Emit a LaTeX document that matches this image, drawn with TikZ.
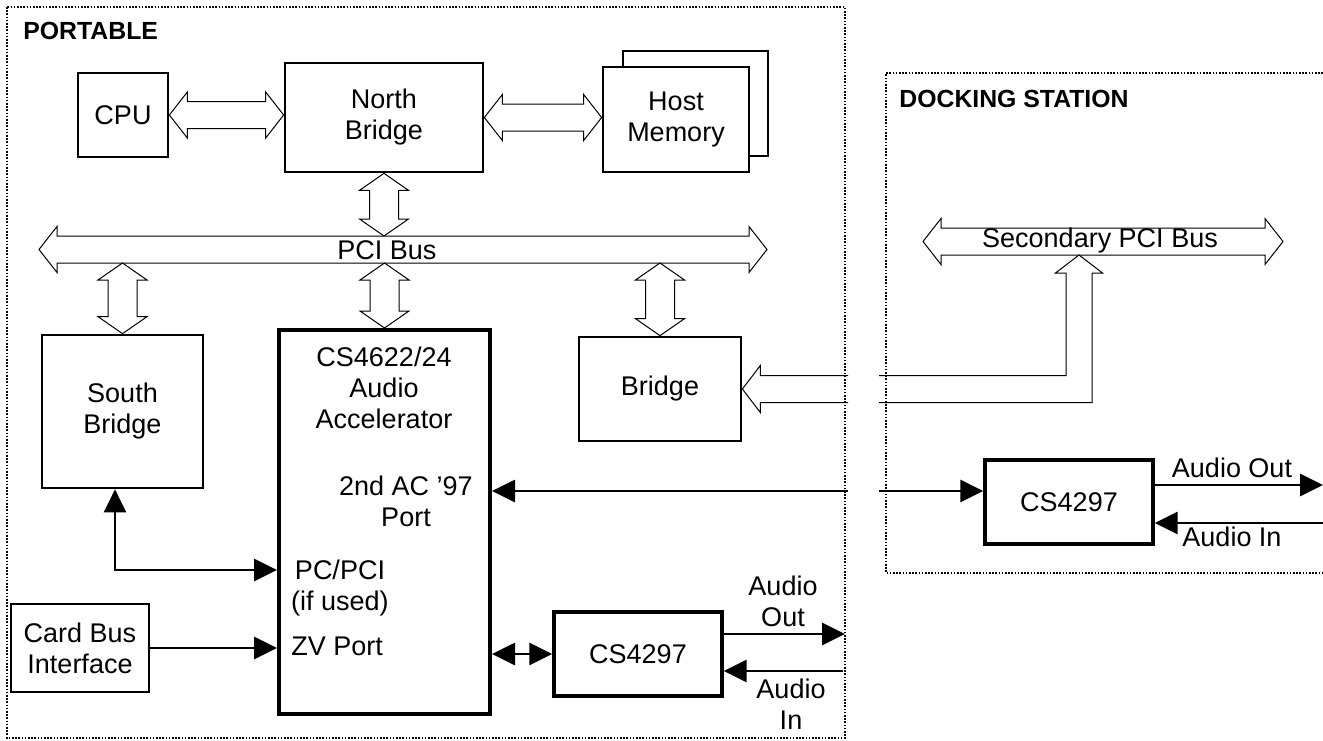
\documentclass[tikz,border=0pt]{standalone}
\usepackage{fontspec}
\setmainfont{Liberation Sans}
\usetikzlibrary{arrows.meta,calc}

% hollow double arrow, left point #1 to right point #2
\newcommand{\hbus}[2]{%
  \draw[busline] let \p1=#1, \p2=#2 in
    (\x1,\y1) -- (\x1+9pt,\y1+11.5pt) -- (\x1+9pt,\y1+6.75pt)
    -- (\x2-9pt,\y1+6.75pt) -- (\x2-9pt,\y1+11.5pt) -- (\x2,\y1)
    -- (\x2-9pt,\y1-11.5pt) -- (\x2-9pt,\y1-6.75pt)
    -- (\x1+9pt,\y1-6.75pt) -- (\x1+9pt,\y1-11.5pt) -- cycle;}
% hollow double arrow, top point #1 to bottom point #2
\newcommand{\vbus}[2]{%
  \draw[busline] let \p1=#1, \p2=#2 in
    (\x1,\y1) -- (\x1+12.25pt,\y1-8.5pt) -- (\x1+7.25pt,\y1-8.5pt)
    -- (\x1+7.25pt,\y2+8.5pt) -- (\x1+12.25pt,\y2+8.5pt) -- (\x1,\y2)
    -- (\x1-12.25pt,\y2+8.5pt) -- (\x1-7.25pt,\y2+8.5pt)
    -- (\x1-7.25pt,\y1-8.5pt) -- (\x1-12.25pt,\y1-8.5pt) -- cycle;}

\begin{document}
\begin{tikzpicture}[
    x=0.5pt, y=-0.5pt,
    font=\fontsize{13.5}{15.5}\selectfont,
    block/.style={rectangle, draw, fill=white, line width=1.35pt, inner sep=0pt, align=center},
    txt/.style={inner sep=0pt, align=center},
    tag/.style={font=\bfseries\fontsize{12.4}{14}\selectfont, anchor=base west, inner sep=0pt},
    frame/.style={line width=0.8pt, dash pattern=on 0.8pt off 0.8pt},
    busline/.style={line width=0.5pt},
    sig/.style={line width=1.4pt, >={Triangle[length=11.5pt,width=11pt]}},
]
\useasboundingbox (0,0) rectangle (1323,740);

% Frames
\draw[frame] (7,7) rectangle (845,738);
\draw[frame] (1323,73) -| (886,573) -- (1323,573);
\node[tag] (portable) at (23,39) {PORTABLE};
\node[tag] (docking) at (899,107) {DOCKING STATION};

% Portable blocks
\node[block, minimum width=45pt, minimum height=42pt] (cpu) at (123,115) {CPU};
\node[block, minimum width=99pt, minimum height=54.5pt] (nb) at (384,117.5) {North\\Bridge};
\node[block, minimum width=72.5pt, minimum height=52.5pt] (hostback) at (695.5,103.5) {};
\node[block, minimum width=73pt, minimum height=52.5pt] (hostmem) at (676,119.5) {Host\\Memory};
\node[block, minimum width=80.5pt, minimum height=76.5pt] (sb) at (122.5,411.5) {South\\Bridge};
\node[block, minimum width=105.5pt, minimum height=192pt, line width=2pt] (accel) at (384.5,522) {};
\node[block, minimum width=81pt, minimum height=52pt] (bridge) at (660,389) {Bridge};
\node[block, minimum width=69pt, minimum height=44pt] (cardbus) at (80,648) {Card Bus\\Interface};
\node[block, minimum width=84pt, minimum height=42pt, line width=1.7pt] (codec) at (638,654) {CS4297};

% Docking block
\node[block, minimum width=84pt, minimum height=42pt, line width=1.7pt] (dockcodec) at (1069,502) {CS4297};

% Accelerator ports
\node[txt, anchor=north] (acceltitle) at (384,347) {CS4622/24\\Audio\\Accelerator};
\node[txt, anchor=north] (acport) at (406,476) {2nd AC '97\\Port};
\node[txt, anchor=north] (pcport) at (340,560) {PC/PCI\\(if used)};
\node[txt, anchor=base west] (zvport) at (291,655) {ZV Port};

% Buses
\coordinate (pciL) at (39,249.5);
\coordinate (pciR) at (767,249.5);
\coordinate (pcitop) at (0,236);
\coordinate (pcibot) at (0,263);
\hbus{(pciL)}{(pciR)}
\node[txt, anchor=base] (pcilabel) at (387,259) {PCI Bus};

\coordinate (secL) at (923,241.5);
\coordinate (secR) at (1283,241.5);
\coordinate (secbot) at (1079,255);
\hbus{(secL)}{(secR)}
\node[txt, anchor=base] (seclabel) at (1100,247) {Secondary PCI Bus};

% Hollow links
\hbus{(cpu.east)}{(nb.west)}
\hbus{(nb.east)}{(hostmem.west)}
\vbus{(nb.south)}{(nb.south |- pcitop)}
\vbus{(sb.north |- pcibot)}{(sb.north)}
\vbus{(accel.north |- pcibot)}{(accel.north)}
\vbus{(bridge.north |- pcibot)}{(bridge.north)}

% Bridge to secondary bus, broken at the frame edge
\coordinate (cutL) at (848,0);
\coordinate (cutR) at (879,0);
\draw[busline] let \p1=(bridge.east), \p2=(cutL) in
  (\x2,\y1+6.75pt) -- (\x1+9pt,\y1+6.75pt) -- (\x1+9pt,\y1+11.75pt) -- (\x1,\y1)
  -- (\x1+9pt,\y1-11.75pt) -- (\x1+9pt,\y1-6.75pt) -- (\x2,\y1-6.75pt);
\draw[busline] let \p1=(bridge.east), \p2=(cutR), \p3=(secbot) in
  (\x2,\y1+6.75pt) -- (\x3-6.5pt,\y1+6.75pt) -- (\x3-6.5pt,\y3-9pt) -- (\x3-11.75pt,\y3-9pt)
  -- (\x3,\y3) -- (\x3+11.75pt,\y3-9pt) -- (\x3+6.5pt,\y3-9pt) -- (\x3+6.5pt,\y1-6.75pt)
  -- (\x2,\y1-6.75pt);

% Signals
\draw[sig,<->] ([xshift=-3.75pt]sb.south) |- (accel.west |- 0,570);
\draw[sig,->] (cardbus.east) -- (cardbus.east -| accel.west);
\draw[sig,<->] (accel.east |- codec.west) -- (codec.west);

\coordinate (aout) at (845,634);
\coordinate (ain) at (843,671);
\draw[sig,->] (codec.east |- aout) -- (aout);
\draw[sig,<-] (codec.east |- ain) -- (ain);
\node[txt, anchor=north] (aoutlabel) at (783,576) {Audio\\Out};
\node[txt, anchor=north] (ainlabel) at (791,679) {Audio\\In};

% 2nd AC '97 link, broken at the frame edge
\coordinate (acL) at (848,491);
\coordinate (acR) at (879,491);
\draw[sig,<-] (accel.east |- acL) -- (acL);
\draw[sig,->] (acR) -- (dockcodec.west |- acR);

\coordinate (daout) at (1323,485);
\coordinate (dain) at (1323,523);
\draw[sig,->] (dockcodec.east |- daout) -- (daout);
\draw[sig,<-] (dockcodec.east |- dain) -- (dain);
\node[txt, anchor=base] (daoutlabel) at (1232,477) {Audio Out};
\node[txt, anchor=base] (dainlabel) at (1232,546) {Audio In};

\end{tikzpicture}
\end{document}
